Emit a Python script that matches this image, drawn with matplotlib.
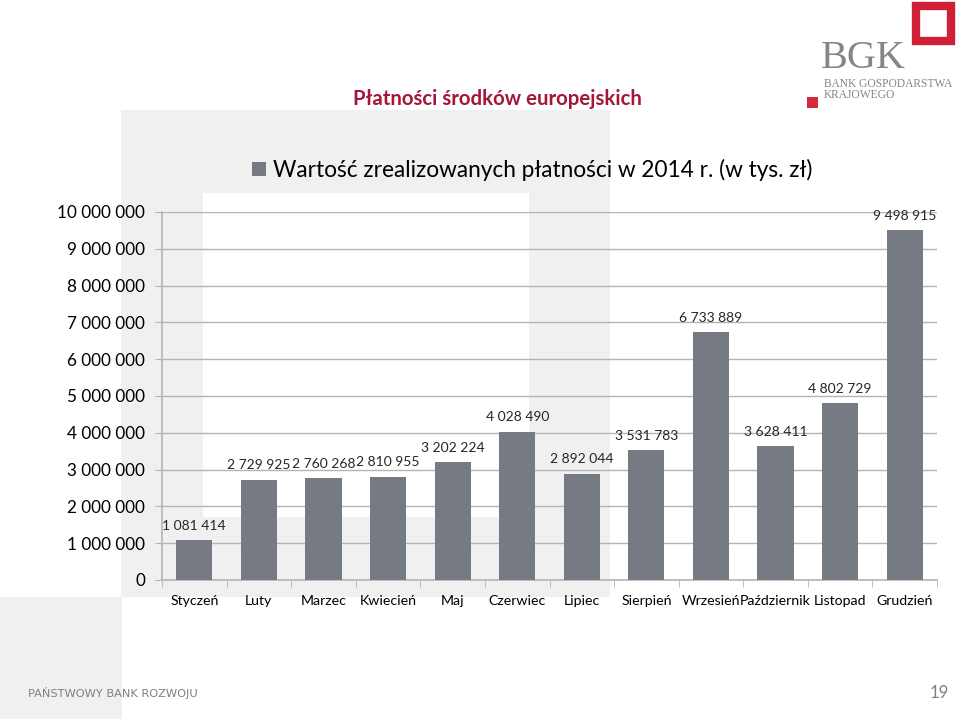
import matplotlib
matplotlib.use('Agg')
import matplotlib.pyplot as plt
from matplotlib.patches import Rectangle, Patch

months = ['Styczeń', 'Luty', 'Marzec', 'Kwiecień', 'Maj', 'Czerwiec', 'Lipiec',
          'Sierpień', 'Wrzesień', 'Październik', 'Listopad', 'Grudzień']
values = [1081414, 2729925, 2760268, 2810955, 3202224, 4028490, 2892044,
          3531783, 6733889, 3628411, 4802729, 9498915]
yticks = [0, 1000000, 2000000, 3000000, 4000000, 5000000,
          6000000, 7000000, 8000000, 9000000, 10000000]
title = 'Płatności środków europejskich'
series_name = 'Wartość zrealizowanych płatności w 2014 r. (w tys. zł)'

W, H = 959, 719
BAR = '#767a82'
GRID = '#b4b4b4'
BG = '#f0f0f0'
FONT = 'Lato'


def fx(x):
    return x / W


def fy(y):
    return 1 - y / H


def fmt(v):
    return f'{v:,}'.replace(',', ' ')


fig = plt.figure(figsize=(W / 100, H / 100), dpi=100)
fig.patch.set_facecolor('white')

# slide decoration (light grey blocks) - behind the axes
def block(x0, y0, x1, y1, color):
    fig.patches.append(Rectangle((fx(x0), fy(y1)), fx(x1 - x0), (y1 - y0) / H,
                                 transform=fig.transFigure, facecolor=color,
                                 edgecolor='none', zorder=-5))

block(121, 110, 610, 597, BG)
block(203, 193, 529, 517, 'white')
block(0, 597, 122, 719, BG)

# logo
fig.patches.append(Rectangle((fx(916), fy(41)), fx(35), 35 / H, transform=fig.transFigure,
                             facecolor='none', edgecolor='#cf2036', linewidth=6, zorder=2))
fig.patches.append(Rectangle((fx(807), fy(108)), fx(11), 11 / H, transform=fig.transFigure,
                             facecolor='#d42a3c', edgecolor='none', zorder=2))
fig.text(fx(821), fy(68), 'BGK', family='Liberation Serif', fontsize=29,
         color='#858585', ha='left', va='baseline')
fig.text(fx(824), fy(87), 'BANK GOSPODARSTWA', family='Liberation Serif', fontsize=8.3,
         color='#858585', ha='left', va='baseline')
fig.text(fx(824), fy(97.5), 'KRAJOWEGO', family='Liberation Serif', fontsize=8.3,
         color='#858585', ha='left', va='baseline')

# title
fig.text(fx(497), fy(99), title, family=FONT, fontsize=14.7, fontweight='bold',
         color='#a3173a', ha='center', va='center')

# chart
ax = fig.add_axes([fx(162), fy(580), fx(937 - 162), 368 / H])
ax.set_facecolor('none')
x = list(range(len(months)))
bars = ax.bar(x, values, width=0.56, color=BAR, zorder=3)
ax.set_xlim(-0.5, len(months) - 0.5)
ax.set_ylim(0, 10000000)
ax.set_yticks(yticks)
ax.set_yticklabels([fmt(v) for v in yticks], family=FONT, fontsize=12.3)
ax.yaxis.grid(True, color=GRID, linewidth=1, zorder=1)
ax.set_axisbelow(True)
ax.set_xticks(x)
ax.set_xticklabels(months, family=FONT, fontsize=10.2)
for lbl in ax.get_xticklabels():
    lbl.set_va('baseline')
ax.tick_params(axis='x', length=0, pad=18)
ax.set_xticks([i + 0.5 for i in range(-1, len(months))], minor=True)
ax.tick_params(axis='x', which='minor', length=5, color=GRID)
ax.tick_params(axis='y', length=5, color=GRID, pad=7)
for s in ['top', 'right']:
    ax.spines[s].set_visible(False)
for s in ['left', 'bottom']:
    ax.spines[s].set_color(GRID)
    ax.spines[s].set_linewidth(1.2)

for b, v in zip(bars, values):
    ax.annotate(fmt(v), (b.get_x() + b.get_width() / 2, v), xytext=(0, 6),
                textcoords='offset points', ha='center', va='bottom',
                family=FONT, fontsize=10, color='#262626')

ax.legend(handles=[Patch(facecolor=BAR, label=series_name)], loc='center left',
          bbox_to_anchor=(fx(252), fy(170)), bbox_transform=fig.transFigure,
          frameon=False, borderpad=0, borderaxespad=0,
          handlelength=0.6, handleheight=0.6, handletextpad=0.32,
          prop={'family': FONT, 'size': 16.3})

# footer
fig.text(fx(28), fy(693), 'PAŃSTWOWY BANK ROZWOJU', family='DejaVu Sans', fontsize=8.2,
         color='#7f7f7f', ha='left', va='center')
fig.text(fx(949), fy(693), '19', family=FONT, fontsize=12, color='#7f7f7f',
         ha='right', va='center')

fig.savefig('out.png', dpi=100)
